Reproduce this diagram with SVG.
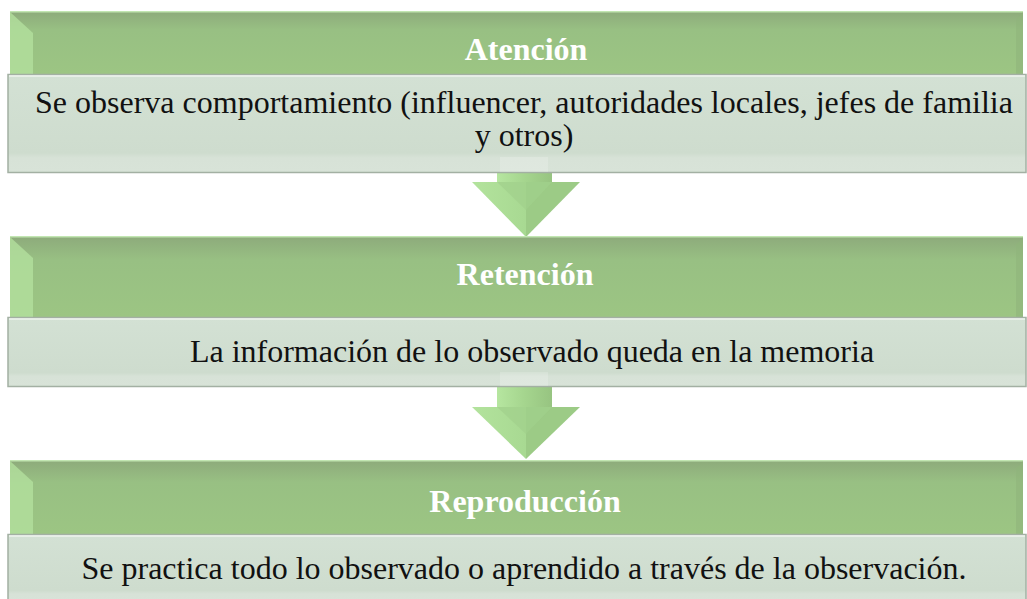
<svg xmlns="http://www.w3.org/2000/svg" width="1027" height="599" viewBox="0 0 1027 599">
<defs>
<linearGradient id="hdrV" x1="0" y1="0" x2="0" y2="1">
<stop offset="0" stop-color="#8daa7b"/>
<stop offset="0.3" stop-color="#98c083"/>
<stop offset="1" stop-color="#9cc583"/>
</linearGradient>
<linearGradient id="bodyV" x1="0" y1="0" x2="0" y2="1">
<stop offset="0" stop-color="#d3e1d4"/>
<stop offset="0.8" stop-color="#cedcce"/>
<stop offset="0.85" stop-color="#d7e2d7"/>
<stop offset="1" stop-color="#d8e3d8"/>
</linearGradient>
<linearGradient id="shaft" x1="0" y1="0" x2="1" y2="0">
<stop offset="0" stop-color="#b6e6a0"/>
<stop offset="0.5" stop-color="#a5d58e"/>
<stop offset="1" stop-color="#97c481"/>
</linearGradient>
<linearGradient id="head" x1="0" y1="0" x2="1" y2="0">
<stop offset="0" stop-color="#b3e39d"/>
<stop offset="0.5" stop-color="#a8d992"/>
<stop offset="0.5" stop-color="#9ccb86"/>
<stop offset="1" stop-color="#9ccb86"/>
</linearGradient>
</defs>
<style>
.hdr{fill:url(#hdrV);}
.bevL{fill:#b3e09e;opacity:0.8;}
.bevR{fill:#8fb47b;opacity:0.6;}
.body{fill:url(#bodyV);stroke:#a3b0a3;stroke-width:1.5;}
.bodyTop{stroke:#eef3ee;stroke-width:1.5;}
.ht{font-family:"Liberation Serif","Times New Roman",serif;font-weight:bold;font-size:32px;fill:#ffffff;text-anchor:middle;}
.bt{font-family:"Liberation Serif","Times New Roman",serif;font-size:32px;fill:#111111;text-anchor:middle;}
.shaft{fill:url(#shaft);}
.head{fill:url(#head);}
.inner{fill:#a1d08b;opacity:0.7;}
</style>

<g id="connectors">
<g id="arrow1">
<rect class="shaft" x="497" y="157" width="55" height="26"/>
<polygon class="head" points="472,182 580,182 526,237"/>
<polygon class="inner" points="497,182 552,182 526,210"/>
</g>
<g id="arrow2">
<rect class="shaft" x="497" y="381" width="55" height="27"/>
<polygon class="head" points="472,407 580,407 526,459"/>
<polygon class="inner" points="497,407 552,407 526,434"/>
</g>
</g>

<g id="node-atencion">
<rect class="hdr" x="10" y="11" width="1013" height="63"/>
<rect x="10" y="11" width="1013" height="1.5" fill="#c2e6b2"/>
<polygon class="bevL" points="10,12 33,33 33,74 10,74"/>
<polygon class="bevR" points="1016,20 1023,12 1023,74 1016,74"/>
<text class="ht" x="526" y="60">Atención</text>
</g>
<g id="node-atencion-body">
<rect class="body" x="8" y="74.5" width="1018" height="98"/>
<line class="bodyTop" x1="9" y1="76" x2="1025" y2="76"/>
<rect x="500" y="157" width="48" height="15" fill="#ffffff" opacity="0.18"/>
<text class="bt" x="524" y="113">Se observa comportamiento (influencer, autoridades locales, jefes de familia</text>
<text class="bt" x="524" y="146">y otros)</text>
</g>

<g id="node-retencion">
<rect class="hdr" x="10" y="236" width="1013" height="81"/>
<rect x="10" y="236" width="1013" height="1.5" fill="#c2e6b2"/>
<polygon class="bevL" points="10,237 33,258 33,317 10,317"/>
<polygon class="bevR" points="1016,245 1023,237 1023,317 1016,317"/>
<text class="ht" x="525" y="285">Retención</text>
</g>
<g id="node-retencion-body">
<rect class="body" x="8" y="317.5" width="1018" height="69"/>
<line class="bodyTop" x1="9" y1="319" x2="1025" y2="319"/>
<rect x="500" y="372" width="48" height="14" fill="#ffffff" opacity="0.18"/>
<text class="bt" x="532" y="362">La información de lo observado queda en la memoria</text>
</g>

<g id="node-reproduccion">
<rect class="hdr" x="10" y="460" width="1013" height="74"/>
<rect x="10" y="460" width="1013" height="1.5" fill="#c2e6b2"/>
<polygon class="bevL" points="10,461 33,482 33,534 10,534"/>
<polygon class="bevR" points="1016,469 1023,461 1023,534 1016,534"/>
<text class="ht" x="525" y="512">Reproducción</text>
</g>
<g id="node-reproduccion-body">
<rect class="body" x="8" y="534.5" width="1018" height="70"/>
<line class="bodyTop" x1="9" y1="536" x2="1025" y2="536"/>
<text class="bt" x="524" y="579">Se practica todo lo observado o aprendido a través de la observación.</text>
</g>
</svg>
